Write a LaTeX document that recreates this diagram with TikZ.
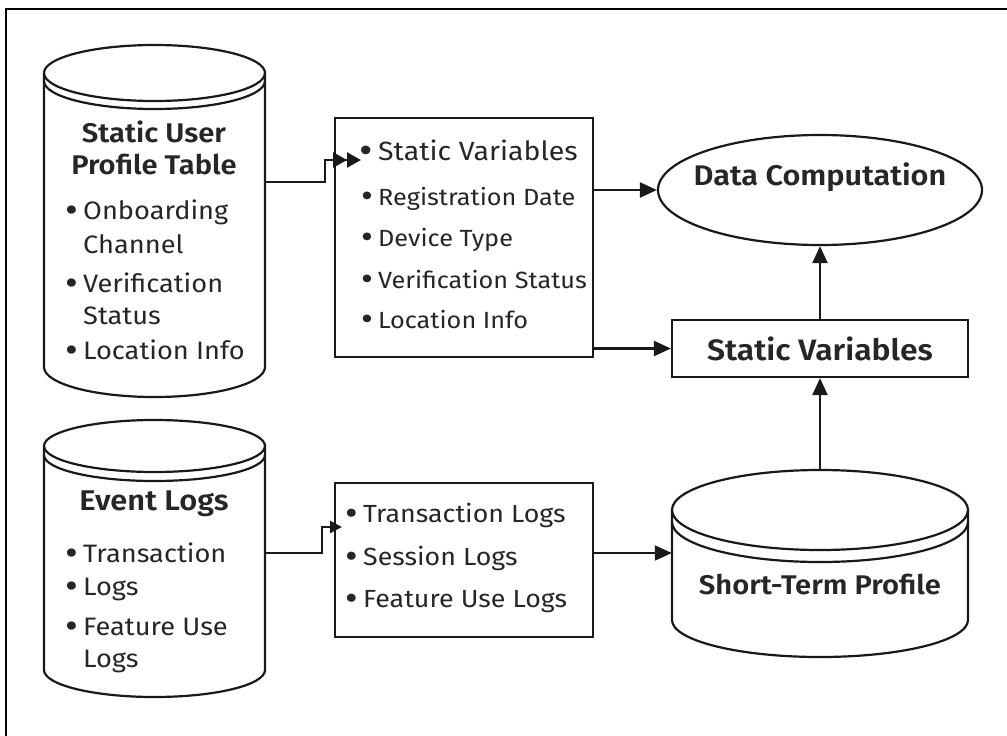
\documentclass[tikz,border=0pt]{standalone}
\usepackage{fontspec}
\setmainfont[BoldFont={Fira Sans SemiBold}, FakeStretch=1.08]{Fira Sans}
\usetikzlibrary{arrows.meta,shapes.geometric}
\newcommand\dbcyl[7]{% #1 left x, #2 right x, #3 top ellipse centre y, #4 top ry, #5 lip offset, #6 sides bottom y, #7 bottom ry
  \pgfmathsetmacro\cylcx{(#1+#2)/2}%
  \pgfmathsetmacro\cylrx{(#2-#1)/2}%
  \draw[line,fill=white] (#1,#3) -- (#1,#6) arc[start angle=180,end angle=360,x radius=\cylrx pt,y radius=#7pt] -- (#2,#3);
  \draw[line] (\cylcx,#3) ellipse[x radius=\cylrx pt,y radius=#4pt];
  \draw[line] (#1,#3+#5) arc[start angle=180,end angle=360,x radius=\cylrx pt,y radius=#4pt];
}
\newcommand\bulletpt{\llap{\raisebox{-0.1em}{\scalebox{1.45}{•}}\hspace{5pt}}}
\begin{document}
\begin{tikzpicture}[x=1pt,y=-1pt,
  line/.style={line width=2.2pt, draw=black!90},
  arr/.style={line, -{Triangle[length=17pt,width=15pt]}},
  boxnode/.style={draw=black!90, line width=2.2pt, inner sep=0pt, fill=white},
  title/.style={font=\fontsize{27}{30}\selectfont\bfseries, text=black!85, inner sep=0pt, anchor=mid},
  ltxt/.style={font=\fontsize{25.2}{28}\selectfont, text=black!85, inner sep=0pt, anchor=mid west},
  mtxt/.style={font=\fontsize{23.4}{26}\selectfont, text=black!85, inner sep=0pt, anchor=mid west},
  ntxt/.style={font=\fontsize{24.8}{26}\selectfont, text=black!85, inner sep=0pt, anchor=mid west}
]
\useasboundingbox (0,0) rectangle (1007,736);
\fill[white] (0,0) rectangle (1007,736);
% frame (top and left edges only visible)
\draw[line width=2.5pt] (6,736) -- (6,9) -- (1007,9);

% ---------- cylinders ----------
\dbcyl{44}{265}{73}{28}{8}{367}{30}
\dbcyl{44}{265}{446}{26}{9}{670}{27}
\dbcyl{672}{968}{510}{40}{12}{620}{37}

\node[inner sep=0pt, minimum width=221pt, minimum height=352pt] (cylA) at (154.5,221) {};
\node[inner sep=0pt, minimum width=221pt, minimum height=277pt] (cylB) at (154.5,558.5) {};
\node[inner sep=0pt, minimum width=296pt, minimum height=187pt] (stp) at (820,563.5) {};

% texts in cylinder A
\node[title] (tA1) at (154,140) {Static User};
\node[title] (tA2) at (154,172) {Profile Table};
\node[ltxt] (lA1) at (83,217) {\bulletpt Onboarding};
\node[ltxt] (lA2) at (83,251) {Channel};
\node[ltxt] (lA3) at (83,290) {\bulletpt Verification};
\node[ltxt] (lA4) at (83,322) {Status};
\node[ltxt] (lA5) at (83,357) {\bulletpt Location Info};

% texts in cylinder B
\node[title, font=\fontsize{28.5}{30}\selectfont\bfseries] (tB1) at (154,508) {Event Logs};
\node[ltxt] (lB1) at (83,560) {\bulletpt Transaction};
\node[ltxt] (lB2) at (83,593) {\bulletpt Logs};
\node[ltxt] (lB3) at (83,633) {\bulletpt Feature Use};
\node[ltxt] (lB4) at (83,665) {Logs};

% short-term profile text
\node[title] (tS) at (820,592) {Short-Term Profile};

% ---------- boxes ----------
\node[boxnode, minimum width=258pt, minimum height=239pt] (box1) at (464,237.5) {};
\node[mtxt, font=\fontsize{26.4}{28}\selectfont] (m1) at (378,158) {\bulletpt Static Variables};
\node[mtxt] (m2) at (378,203) {\bulletpt Registration Date};
\node[mtxt] (m3) at (378,244) {\bulletpt Device Type};
\node[mtxt] (m4) at (378,286) {\bulletpt Verification Status};
\node[mtxt] (m5) at (378,326) {\bulletpt Location Info};

\node[boxnode, minimum width=258pt, minimum height=154pt] (box2) at (464,560) {};
\node[ntxt] (n1) at (363,520) {\bulletpt Transaction Logs};
\node[ntxt] (n2) at (363,563) {\bulletpt Session Logs};
\node[ntxt] (n3) at (363,605) {\bulletpt Feature Use Logs};

\node[boxnode, minimum width=296pt, minimum height=57pt,
      font=\fontsize{29.5}{30}\selectfont\bfseries, text=black!85] (sv) at (820,348.5) {Static Variables};

\node[draw=black!90, line width=2.2pt, ellipse, inner sep=0pt, minimum width=324pt, minimum height=110pt] (dc) at (820,190) {};
\node[font=\fontsize{28.4}{30}\selectfont\bfseries, text=black!85, inner sep=0pt, anchor=mid] (dct) at (dc.center |- 0,183) {Data Computation};

% ---------- connectors ----------
\coordinate (aOut) at (265,182);
\coordinate (aKnee) at (325,182);
\coordinate (aUp) at (325,160);
\coordinate (aIn) at (361,160);
\draw[line, -{Triangle[length=14pt,width=15pt]Triangle[length=14pt,width=15pt]}] (aOut) -- (aKnee) -- (aUp) -- (aIn);

\coordinate (bOut) at (265,553);
\coordinate (bKnee) at (322,553);
\coordinate (bUp) at (322,527);
\coordinate (bIn) at (342,527);
\draw[line, -{Triangle[length=12pt,width=12pt]}] (bOut) -- (bKnee) -- (bUp) -- (bIn);

\draw[arr] (box1.east |- dc.west) -- (dc.west);
\draw[arr] (box1.east |- sv.west) -- (sv.west);
\draw[arr] (sv.north) -- (dc.south);
\coordinate (box2y) at (593,553);
\draw[arr] (box2y) -- (box2y -| stp.west);
\draw[arr] (stp.north) -- (sv.south);
\end{tikzpicture}
\end{document}
